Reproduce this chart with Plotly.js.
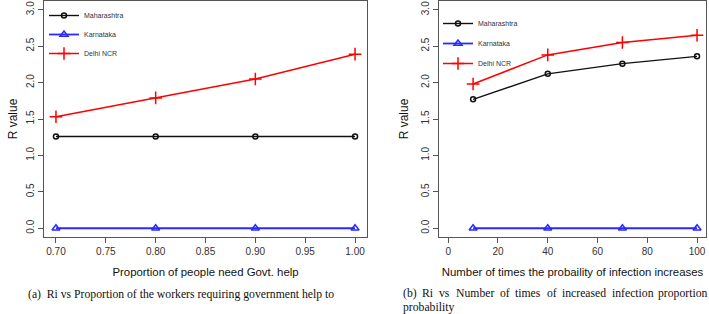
<!DOCTYPE html>
<html>
<head>
<meta charset="utf-8">
<script src="https://cdn.plot.ly/plotly-3.0.1.min.js"></script>
<style>html,body{margin:0;padding:0;background:#fff;}#chart{width:709px;height:314px;}</style>
</head>
<body>
<div id="chart"></div>
<script>
// ---- data ----
const seriesNames = ["Maharashtra", "Karnataka", "Delhi NCR"];
const xA = [0.70, 0.80, 0.90, 1.00];           // Proportion of people need Govt. help
const maharashtraA = [1.26, 1.26, 1.26, 1.26];
const karnatakaA = [0.0, 0.0, 0.0, 0.0];
const delhiA = [1.53, 1.79, 2.05, 2.39];

const xB = [10, 40, 70, 100];                   // Number of times probability increases
const maharashtraB = [1.77, 2.12, 2.26, 2.36];
const karnatakaB = [0.0, 0.0, 0.0, 0.0];
const delhiB = [1.98, 2.38, 2.55, 2.65];

const xTitleA = "Proportion of people need Govt. help";
const xTitleB = "Number of times the probaility of infection increases";
const yTitle = "R value";
const captionA = "(a)  Ri vs Proportion of the workers requiring government help to";
const captionBWords = ["(b)", "Ri", "vs", "Number", "of", "times", "of", "increased", "infection", "proportion"];
const captionBLine2 = "probability";

// ---- layout helpers ----
const W = 709, H = 314;
const px = v => v / W;
const py = v => 1 - v / H;

const styles = [
  {color: "#111111", symbol: "circle-open", size: 5, lw: 1.4},
  {color: "#2a2aff", symbol: "triangle-up-open", size: 7, lw: 1.8},
  {color: "#ff0000", symbol: "cross-thin-open", size: 9, lw: 1.5}
];

function mk(x, y, i, xa, ya, leg, grp) {
  const s = styles[i];
  return {
    x: x, y: y, name: seriesNames[i], type: "scatter", mode: "lines+markers",
    xaxis: xa, yaxis: ya, legend: leg, legendgroup: grp,
    line: {color: s.color, width: s.lw},
    marker: {symbol: s.symbol, size: s.size, color: s.color, line: {color: s.color, width: 1.5}}
  };
}

const traces = [
  mk(xA, maharashtraA, 0, "x", "y", "legend", "a0"),
  mk(xA, karnatakaA, 1, "x", "y", "legend", "a1"),
  mk(xA, delhiA, 2, "x", "y", "legend", "a2"),
  mk(xB, maharashtraB, 0, "x2", "y2", "legend2", "b0"),
  mk(xB, karnatakaB, 1, "x2", "y2", "legend2", "b1"),
  mk(xB, delhiB, 2, "x2", "y2", "legend2", "b2")
];

const tickFont = {family: "Liberation Sans, Arial, sans-serif", size: 10, color: "#333"};
const xTitleFont = {family: "Liberation Sans, Arial, sans-serif", size: 11.4, color: "#111"};
const yTitleFont = {family: "Liberation Sans, Arial, sans-serif", size: 12, color: "#111"};

function xax(domain, range, tick0, dtick, fmt, title, anchor) {
  return {
    domain: domain, range: range, anchor: anchor, tick0: tick0, dtick: dtick, tickformat: fmt,
    showgrid: false, zeroline: false, showline: true, mirror: true, linecolor: "#555", linewidth: 1,
    ticks: "outside", ticklen: 5, tickcolor: "#555", tickfont: tickFont,
    title: {text: title, font: xTitleFont, standoff: 12}
  };
}
function yax(domain, anchor, standoff) {
  return {
    domain: domain, range: [-0.12, 3.12], anchor: anchor, tick0: 0, dtick: 0.5, tickformat: ".1f",
    showgrid: false, zeroline: false, showline: true, mirror: true, linecolor: "#555", linewidth: 1,
    ticks: "outside", ticklen: 5, tickcolor: "#555", tickfont: tickFont, tickangle: -90,
    title: {text: yTitle, font: yTitleFont, standoff: standoff}
  };
}

const yDom = [py(237), py(1)];
const capFont = {family: "Liberation Serif, Times New Roman, serif", size: 11.7, color: "#111"};
const annotations = [];
annotations.push({xref: "paper", yref: "paper", x: px(27), y: py(294), xanchor: "left", yanchor: "middle",
  text: captionA, showarrow: false, font: capFont});
const wordX = [402, 421.4, 438.3, 454.5, 498.7, 514.2, 545.5, 561.1, 611.1, 708];
captionBWords.forEach((w, i) => {
  const last = i === captionBWords.length - 1;
  annotations.push({xref: "paper", yref: "paper", x: px(wordX[i]), y: py(293),
    xanchor: last ? "right" : "left", yanchor: "middle",
    text: w, showarrow: false, font: capFont});
});
annotations.push({xref: "paper", yref: "paper", x: px(402), y: py(307), xanchor: "left", yanchor: "middle",
  text: captionBLine2, showarrow: false, font: capFont});
annotations.forEach(a => { a.borderpad = 0; });

const legFont = {family: "Liberation Sans, Arial, sans-serif", size: 7, color: "#333"};
const layout = {
  width: W, height: H,
  margin: {l: 0, r: 0, t: 0, b: 0},
  paper_bgcolor: "#fff", plot_bgcolor: "#fff",
  showlegend: true,
  xaxis: xax([px(44), px(367)], [0.688, 1.012], 0.7, 0.05, ".2f", xTitleA, "y"),
  yaxis: yax(yDom, "x", 4),
  xaxis2: xax([px(439), px(706)], [-3.7, 103.6], 0, 20, "d", xTitleB, "y2"),
  yaxis2: yax(yDom, "x2", 8),
  legend: {x: px(44), y: py(1), xanchor: "left", yanchor: "top", bgcolor: "rgba(0,0,0,0)",
    font: legFont, itemwidth: 30, tracegroupgap: 0, traceorder: "normal"},
  legend2: {x: px(438), y: py(9), xanchor: "left", yanchor: "top", bgcolor: "rgba(0,0,0,0)",
    font: legFont, itemwidth: 30, tracegroupgap: 1, traceorder: "grouped"},
  annotations: annotations
};

Plotly.newPlot("chart", traces, layout, {staticPlot: true, displayModeBar: false});
</script>
</body>
</html>
